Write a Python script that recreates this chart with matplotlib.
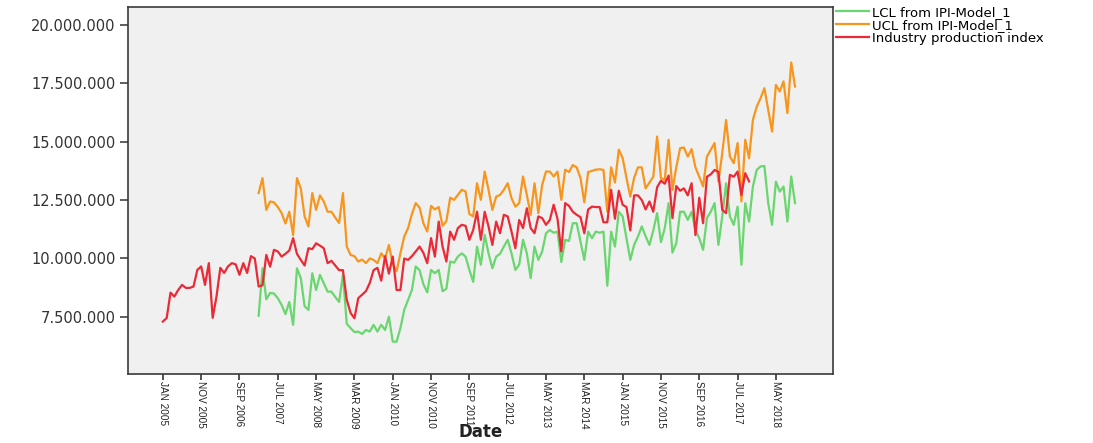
import numpy as np
import pandas as pd
import matplotlib
matplotlib.use('Agg')
import matplotlib.pyplot as plt
from matplotlib.ticker import FuncFormatter

# monthly values, millions
ipi = [7.30, 7.45, 8.54, 8.37, 8.65, 8.87, 8.74, 8.74, 8.80, 9.51,
       9.66, 8.87, 9.80, 7.46, 8.37, 9.60, 9.38, 9.66, 9.80, 9.75,
       9.30, 9.80, 9.38, 10.10, 10.00, 8.80, 8.85, 10.15, 9.65, 10.37,
       10.30, 10.08, 10.20, 10.34, 10.87, 10.20, 9.94, 9.70, 10.44, 10.40,
       10.65, 10.55, 10.44, 9.80, 9.90, 9.70, 9.50, 9.50, 8.23, 7.67,
       7.44, 8.30, 8.45, 8.60, 8.95, 9.50, 9.60, 9.05, 10.10, 9.35,
       10.08, 8.65, 8.65, 10.00, 9.94, 10.10, 10.30, 10.51, 10.24, 9.80,
       10.87, 10.08, 11.58, 10.51, 9.87, 11.15, 10.80, 11.30, 11.44, 11.40,
       10.80, 11.22, 12.00, 10.80, 12.00, 11.37, 10.58, 11.58, 11.08, 11.87,
       11.80, 11.15, 10.44, 11.65, 11.30, 12.15, 11.30, 11.08, 11.80, 11.73,
       11.44, 11.65, 12.30, 11.70, 10.30, 12.37, 12.25, 12.00, 11.87, 11.77,
       11.08, 12.10, 12.22, 12.20, 12.20, 11.55, 11.55, 12.94, 11.70, 12.90,
       12.30, 12.20, 11.20, 12.70, 12.70, 12.50, 12.10, 12.44, 12.00, 13.05,
       13.33, 13.20, 13.55, 11.73, 13.10, 12.90, 13.00, 12.70, 13.22, 11.00,
       12.60, 11.51, 13.50, 13.60, 13.79, 13.70, 12.08, 11.94, 13.58, 13.50,
       13.72, 12.72, 13.65, 13.30]

ucl = [12.80, 13.44, 12.08, 12.44, 12.40,
       12.20, 11.94, 11.50, 12.00, 11.00,
       13.44, 13.00, 11.80, 11.37, 12.80,
       12.08, 12.70, 12.44, 12.00, 12.00,
       11.75, 11.52, 12.80, 10.51, 10.15,
       10.10, 9.87, 9.95, 9.80, 10.00,
       9.94, 9.80, 10.22, 10.00, 10.58,
       9.75, 9.45, 10.22, 10.94, 11.30,
       11.90, 12.37, 12.18, 11.51, 11.15,
       12.25, 12.10, 12.20, 11.40, 11.60,
       12.60, 12.51, 12.72, 12.94, 12.87,
       11.90, 11.80, 13.22, 12.51, 13.72,
       12.94, 12.08, 12.65, 12.72, 12.94,
       13.22, 12.58, 12.22, 12.37, 13.51,
       12.72, 11.87, 13.22, 11.94, 13.15,
       13.72, 13.72, 13.51, 13.72, 12.51,
       13.80, 13.70, 14.00, 13.90, 13.45,
       12.40, 13.70, 13.75, 13.80, 13.82,
       13.79, 12.00, 13.90, 13.25, 14.66,
       14.30, 13.45, 12.65, 13.45, 13.90,
       13.90, 13.00, 13.25, 13.50, 15.22,
       13.44, 13.36, 15.08, 12.94, 13.90,
       14.72, 14.75, 14.36, 14.68, 13.90,
       13.50, 13.08, 14.36, 14.65, 14.94,
       13.29, 14.50, 15.93, 14.36, 14.08,
       14.94, 12.44, 15.08, 14.29, 15.93,
       16.50, 16.86, 17.29, 16.36, 15.43,
       17.43, 17.15, 17.58, 16.22, 18.39,
       17.36]

lcl = [7.55, 9.58, 8.25, 8.53, 8.50,
       8.30, 8.01, 7.62, 8.14, 7.16,
       9.58, 9.16, 7.95, 7.80, 9.37,
       8.65, 9.30, 8.94, 8.58, 8.58,
       8.35, 8.14, 9.30, 7.20, 7.02,
       6.85, 6.87, 6.77, 6.94, 6.87,
       7.16, 6.87, 7.16, 6.94, 7.51,
       6.44, 6.44, 7.02, 7.80, 8.23,
       8.65, 9.66, 9.50, 8.90, 8.55,
       9.51, 9.37, 9.51, 8.60, 8.70,
       9.87, 9.82, 10.08, 10.22, 10.08,
       9.51, 9.00, 10.51, 9.73, 11.01,
       10.22, 9.58, 10.08, 10.20, 10.51,
       10.80, 10.22, 9.51, 9.73, 10.80,
       10.22, 9.16, 10.51, 9.94, 10.30,
       11.08, 11.22, 11.10, 11.15, 9.85,
       10.80, 10.75, 11.51, 11.51, 10.72,
       9.94, 11.15, 10.87, 11.15, 11.10,
       11.15, 8.83, 11.15, 10.51, 12.00,
       11.80, 10.87, 9.94, 10.58, 10.94,
       11.37, 10.95, 10.58, 11.20, 11.94,
       10.70, 11.30, 12.37, 10.25, 10.65,
       12.00, 12.00, 11.65, 12.00, 11.22,
       10.87, 10.37, 11.73, 12.00, 12.37,
       10.58, 11.80, 13.22, 11.80, 11.44,
       12.22, 9.73, 12.37, 11.58, 13.08,
       13.79, 13.94, 13.96, 12.37, 11.44,
       13.29, 12.86, 13.08, 11.58, 13.51,
       12.37]

ipi_start = '2005-01'
model_start = '2007-02'
months = pd.period_range('2005-01', '2018-10', freq='M')

pos = {p: i for i, p in enumerate(months)}
x_ipi = pos[pd.Period(ipi_start, 'M')] + np.arange(len(ipi))
x_mod = pos[pd.Period(model_start, 'M')] + np.arange(len(ucl))

plt.rcParams['font.family'] = 'DejaVu Sans'

fig = plt.figure(figsize=(10.93, 4.43), dpi=100)
fig.subplots_adjust(left=0.1171, right=0.7621, top=0.984, bottom=0.156)
ax = fig.add_subplot(111)
ax.set_facecolor('#f0f0f0')

h1, = ax.plot(x_mod, np.array(lcl) * 1e6, color='#6ad66f', lw=1.6)
h2, = ax.plot(x_mod, np.array(ucl) * 1e6, color='#f7961e', lw=1.6)
h3, = ax.plot(x_ipi, np.array(ipi) * 1e6, color='#ea2a36', lw=1.6)

ax.set_xlim(-9.1, 174.9)
ax.set_ylim(5.06e6, 20.76e6)

ax.set_yticks(np.arange(7.5e6, 20.01e6, 2.5e6))
ax.yaxis.set_major_formatter(FuncFormatter(lambda v, p: '{:,.0f}'.format(v).replace(',', '.')))

ticks = np.arange(0, len(months), 10)
ax.set_xticks(ticks)
ax.set_xticklabels([months[i].strftime('%b %Y').upper() for i in ticks],
                   rotation=270, fontsize=7.2, va='top', ha='center',
                   family='Liberation Sans')

ax.tick_params(axis='y', labelsize=10.5, length=6, width=1.1, colors='#333333', pad=3)
ax.tick_params(axis='x', length=4, width=1.1, colors='#222222', pad=1)

for s in ax.spines.values():
    s.set_color('#3a3a3a')
    s.set_linewidth(1.2)

ax.set_xlabel('Date', fontsize=12, fontweight='bold', color='#222222', va='bottom')
ax.xaxis.set_label_coords(0.5, -0.183)

fig.legend([h1, h2, h3],
           ['LCL from IPI-Model_1', 'UCL from IPI-Model_1', 'Industry production index'],
           loc='upper left', bbox_to_anchor=(836 / 1093, 1 - 6 / 443),
           frameon=False, fontsize=9.5, handlelength=2.5, handletextpad=0.25,
           labelspacing=0.0, borderpad=0, borderaxespad=0)

fig.savefig('out.png', dpi=100)
